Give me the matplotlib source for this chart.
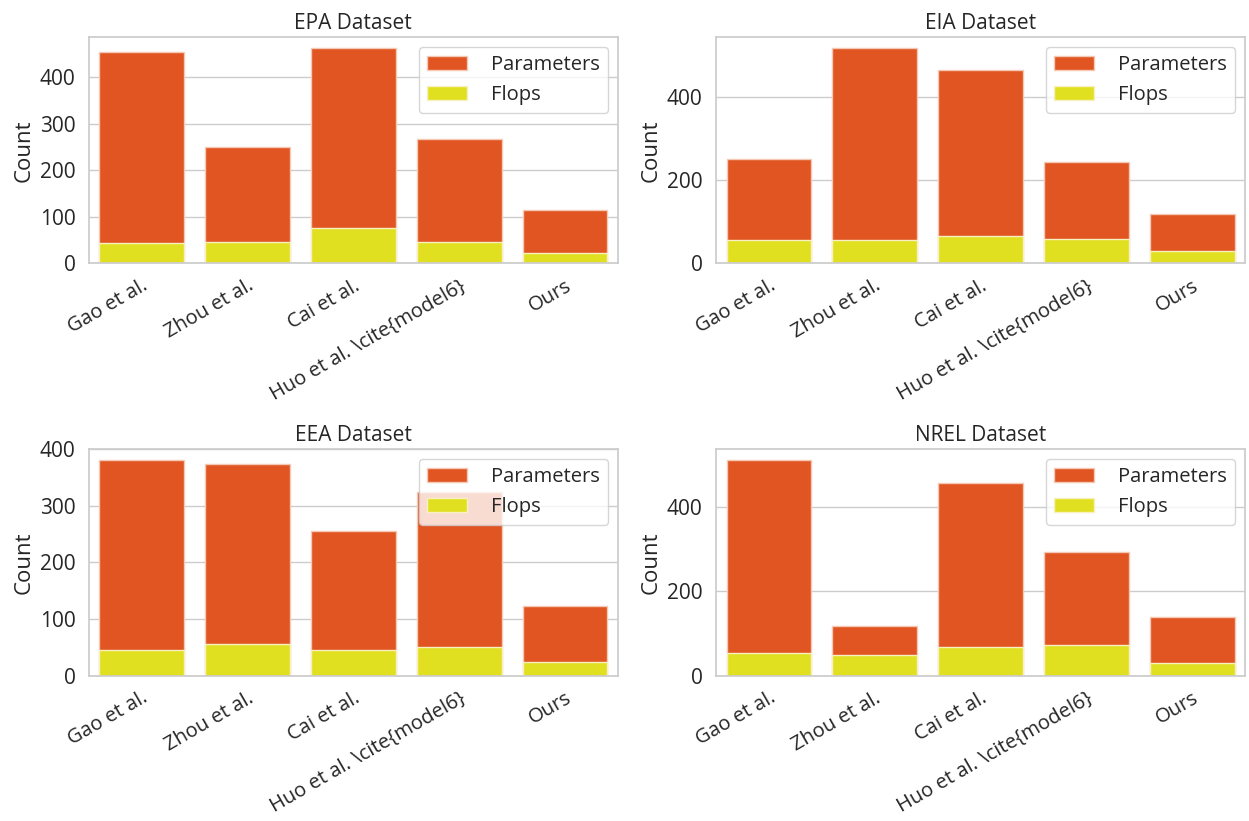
import numpy as np
import matplotlib
matplotlib.use("Agg")
import matplotlib.pyplot as plt
import seaborn as sns

models = ["Gao et al.", "Zhou et al.", "Cai et al.", "Huo et al. \\cite{model6}", "Ours"]
datasets = ["EPA Dataset", "EIA Dataset", "EEA Dataset", "NREL Dataset"]

epa_params = [455, 251, 464, 268, 115]
epa_flops = [43, 46, 77, 46, 22]
eia_params = [252, 519, 465, 243, 120]
eia_flops = [57, 56, 65, 60, 29]
eea_params = [381, 374, 256, 325, 123]
eea_flops = [46, 56, 45, 51, 24]
nrel_params = [511, 117, 457, 294, 139]
nrel_flops = [53, 48, 69, 73, 29]

params = [epa_params, eia_params, eea_params, nrel_params]
flops = [epa_flops, eia_flops, eea_flops, nrel_flops]

sns.set_theme(style="whitegrid")
plt.rcParams['font.family'] = ['Open Sans', 'DejaVu Sans']
plt.rcParams['text.color'] = '#262626'
plt.rcParams['axes.labelcolor'] = '#262626'
plt.rcParams['xtick.color'] = '#262626'
plt.rcParams['ytick.color'] = '#262626'

fig, axes = plt.subplots(2, 2, figsize=(12.49, 8.21), dpi=100)

for ax, name, p, f in zip(axes.flat, datasets, params, flops):
    x = np.arange(len(models))
    ax.bar(x, p, width=0.8, color='#E05522', edgecolor='#F5C8B5', linewidth=1, label='Parameters')
    ax.bar(x, f, width=0.8, color='#E0E020', edgecolor='#F8F0C0', linewidth=1, label='Flops')
    ax.set_xlim(-0.5, len(models) - 0.5)
    ax.set_ylim(0, max(p) * 1.05)
    ax.set_xticks(x)
    ax.set_xticklabels(models, rotation=30, ha='right', rotation_mode='anchor', fontsize=14.5)
    ax.tick_params(axis='y', labelsize=15)
    ax.tick_params(axis='x', pad=3)
    ax.set_title(name, fontsize=15)
    ax.set_ylabel('Count', fontsize=16)
    ax.xaxis.grid(False)
    ax.legend(loc='upper right', fontsize=14.5, handletextpad=1.2)

fig.subplots_adjust(left=0.071, right=0.997, top=0.955, bottom=0.177, wspace=0.185, hspace=0.82)
plt.savefig('out.png', dpi=100)
